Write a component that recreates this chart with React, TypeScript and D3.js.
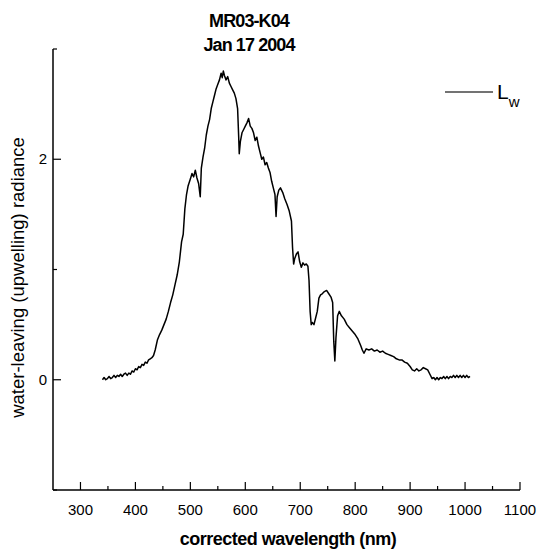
import React from "react";
import * as d3 from "d3";

// Water-leaving radiance spectrum, station MR03-K04
const wavelengths = [
  340, 343, 346, 349, 352, 355, 358, 361, 364, 367, 370, 373, 376, 379, 382,
  385, 388, 391, 394, 397, 400, 403, 406, 409, 412, 415, 418, 421, 424, 427,
  430, 433, 436, 440, 444, 448, 452, 456,
  460, 464, 468, 472, 476, 480, 484, 487, 490, 493, 496, 500, 503, 506, 509,
  512, 515, 518, 520, 523, 526, 529, 532, 535, 538, 541, 544, 547, 550, 553,
  556, 558, 560, 562, 565, 568, 571, 574, 577, 580, 583, 586, 588, 589, 591,
  594, 597, 600, 603, 606, 609, 612, 615, 618, 621, 624, 627, 630, 633, 636,
  639, 642, 645, 648, 651, 654, 656, 658, 661, 664, 668, 672, 676, 680, 684,
  686, 688, 690, 693, 696, 699, 702, 705, 708, 711, 714, 716, 718, 720, 722,
  725, 728, 731, 734, 737, 740, 744, 748, 752, 756, 759, 761, 763, 765, 768,
  771, 775, 780, 785, 790, 795, 800, 805, 810, 813, 816, 820, 825, 830, 835,
  840, 845, 850, 855, 860, 865, 870, 875, 880, 885, 890, 895, 900, 904, 908,
  912, 916, 920, 924, 928, 932, 936, 940, 943, 946, 949, 952, 955, 958, 961,
  964, 967, 970, 973, 976, 979, 982, 985, 988, 991, 994, 997, 1000, 1003, 1006, 1009,
];

const radiance = [
  0.0, 0.02, 0.0, 0.01, 0.03, 0.01, 0.02, 0.04, 0.02, 0.04, 0.03, 0.05, 0.03, 0.05, 0.06,
  0.04, 0.06, 0.05, 0.08, 0.07, 0.1, 0.09, 0.12, 0.11, 0.14, 0.13, 0.16, 0.15, 0.18, 0.19,
  0.2, 0.22, 0.27, 0.36, 0.41, 0.45, 0.5, 0.55,
  0.62, 0.7, 0.77, 0.86, 0.95, 1.07, 1.25, 1.32, 1.55, 1.68, 1.76, 1.82, 1.87, 1.84, 1.9,
  1.83, 1.78, 1.66, 1.92, 2.02, 2.1, 2.22, 2.3, 2.36, 2.46, 2.52, 2.58, 2.64, 2.68, 2.72,
  2.78, 2.74, 2.8, 2.76, 2.72, 2.75, 2.69, 2.66, 2.63, 2.6, 2.55, 2.46, 2.2, 2.05, 2.16,
  2.24, 2.27, 2.3, 2.33, 2.37, 2.3, 2.28, 2.24, 2.17, 2.2, 2.12, 2.06, 2.0, 2.02, 1.95,
  1.97, 1.92, 1.88, 1.8, 1.74, 1.68, 1.48, 1.66, 1.72, 1.74, 1.7, 1.64, 1.59, 1.53, 1.44,
  1.2, 1.05, 1.1, 1.14, 1.16, 1.07, 1.02, 1.06, 1.04, 1.05, 1.03, 0.9, 0.62, 0.5, 0.52,
  0.5, 0.56, 0.62, 0.74, 0.77, 0.78, 0.8, 0.81, 0.78, 0.75, 0.7, 0.35, 0.17, 0.38, 0.58,
  0.62, 0.58, 0.55, 0.5, 0.47, 0.44, 0.41, 0.37, 0.31, 0.27, 0.24, 0.28, 0.27, 0.28, 0.26,
  0.27, 0.25, 0.26, 0.24, 0.23, 0.22, 0.21, 0.19, 0.18, 0.18, 0.16, 0.15, 0.12, 0.09, 0.08,
  0.1, 0.08, 0.09, 0.11, 0.1, 0.09, 0.05, 0.01, 0.02, 0.0, 0.02, 0.0, 0.02, 0.01, 0.03,
  0.01, 0.03, 0.01, 0.03, 0.02, 0.04, 0.02, 0.04, 0.02, 0.04, 0.02, 0.04, 0.02, 0.04, 0.02, 0.03,
];

const xMajorTicks = [300, 400, 500, 600, 700, 800, 900, 1000, 1100];
const xMinorTicks = [350, 450, 550, 650, 750, 850, 950, 1050];
const yMajorTicks = [0, 2];
const yMinorTicks = [-1, 1, 3];

const titleLines = ["MR03-K04", "Jan 17 2004"];
const xTitle = "corrected wavelength (nm)";
const yTitle = "water-leaving (upwelling) radiance";

const FONT = "'Liberation Sans', Arial, sans-serif";

export default function App() {
  const W = 540;
  const H = 555;
  const x = d3.scaleLinear().domain([250, 1100]).range([53, 520]);
  const y = d3.scaleLinear().domain([-1, 3]).range([490, 49]);

  const points = wavelengths.map((w, i) => [w, radiance[i]] as [number, number]);
  const line = d3
    .line<[number, number]>()
    .x((d) => x(d[0]))
    .y((d) => y(d[1]));

  const x0 = x(250);
  const y0 = y(-1);
  const majorLen = 8;
  const minorLen = 4;

  return (
    <svg
      width={W}
      height={H}
      style={{ position: "absolute", left: 0, top: 0, background: "#fff" }}
      fontFamily={FONT}
    >
      <rect x={0} y={0} width={W} height={H} fill="#fff" />

      {/* title */}
      <text x={249} y={27} textAnchor="middle" fontSize={18} fontWeight="bold" letterSpacing={-0.9} fill="#000">
        {titleLines[0]}
      </text>
      <text x={249} y={51} textAnchor="middle" fontSize={18} fontWeight="bold" letterSpacing={-0.9} fill="#000">
        {titleLines[1]}
      </text>

      {/* axes */}
      <line x1={x0} x2={x0} y1={y(3)} y2={y0} stroke="#000" strokeWidth={1.5} />
      <line x1={x0} x2={x(1100)} y1={y0} y2={y0} stroke="#000" strokeWidth={1.5} />

      {xMajorTicks.map((t) => (
        <g key={"xM" + t}>
          <line x1={x(t)} x2={x(t)} y1={y0} y2={y0 - majorLen} stroke="#000" strokeWidth={1.2} />
          <text x={x(t)} y={515} textAnchor="middle" fontSize={15} fill="#000">
            {t}
          </text>
        </g>
      ))}
      {xMinorTicks.map((t) => (
        <line key={"xm" + t} x1={x(t)} x2={x(t)} y1={y0} y2={y0 - minorLen} stroke="#000" strokeWidth={1.2} />
      ))}

      {yMajorTicks.map((t) => (
        <g key={"yM" + t}>
          <line x1={x0} x2={x0 + majorLen} y1={y(t)} y2={y(t)} stroke="#000" strokeWidth={1.2} />
          <text x={47} y={y(t) + 5} textAnchor="end" fontSize={15} fill="#000">
            {t}
          </text>
        </g>
      ))}
      {yMinorTicks.map((t) => (
        <line key={"ym" + t} x1={x0} x2={x0 + minorLen} y1={y(t)} y2={y(t)} stroke="#000" strokeWidth={1.2} />
      ))}

      {/* axis titles */}
      <text x={288} y={545} textAnchor="middle" fontSize={18} fontWeight="bold" letterSpacing={-0.5} fill="#000">
        {xTitle}
      </text>
      <text
        transform={`translate(24, ${(y(3) + y0) / 2 + 8}) rotate(-90)`}
        textAnchor="middle"
        fontSize={18.5}
        fill="#000"
      >
        {yTitle}
      </text>

      {/* spectrum */}
      <path d={line(points) ?? ""} fill="none" stroke="#000" strokeWidth={1.5} strokeLinejoin="round" />

      {/* legend */}
      <line x1={445} x2={493} y1={92} y2={92} stroke="#444" strokeWidth={1.3} />
      <text x={497} y={99} fontSize={21} fill="#000">
        L
        <tspan fontSize={15} dy={8}>
          w
        </tspan>
      </text>
    </svg>
  );
}
